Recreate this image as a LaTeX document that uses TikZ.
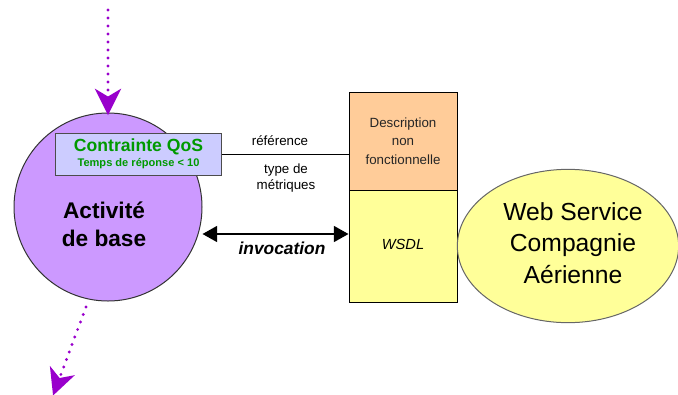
\documentclass[tikz,border=0pt]{standalone}
\usepackage{fontspec}
\setmainfont{Liberation Sans}
\usetikzlibrary{arrows.meta,shapes.geometric}
\definecolor{actfill}{HTML}{CC99FF}
\definecolor{flowpurple}{HTML}{9900CC}
\definecolor{qosfill}{HTML}{CCCCFF}
\definecolor{qosgreen}{HTML}{009900}
\definecolor{descfill}{HTML}{FFCC99}
\definecolor{wsdlfill}{HTML}{FFFF99}
\definecolor{wsfill}{HTML}{FFFF99}
\tikzset{
  flow/.style={flowpurple, line width=2.4pt, line cap=round, dash pattern=on 0pt off 6pt,
    -{Stealth[length=20pt,width=20pt,inset=6pt,line width=0pt,fill=flowpurple,sep=-2pt]}},
  boxed/.style={draw=black, line width=0.75pt, minimum width=81pt, inner sep=0pt},
}
\begin{document}
\begin{tikzpicture}[x=0.75pt,y=-0.75pt]
\useasboundingbox (0,0) rectangle (678,394);
% Activity circle
\node[circle, draw=black!80, line width=0.75pt, fill=actfill, minimum size=141pt, inner sep=0pt] (act) at (108,207) {};
\node[font=\bfseries\fontsize{17}{21}\selectfont, align=center] (acttxt) at (104,224) {Activité\\de base};
% flows
\coordinate (topstart) at (108,10);
\coordinate (botend) at (54,393);
\coordinate (botstart) at (86,307);
\draw[flow] (topstart) -- (act.north);
\draw[flow] (botstart) -- (botend);
% QoS box
\node[draw=black!70, line width=0.75pt, fill=qosfill, minimum width=125pt, minimum height=31.5pt, inner sep=0pt, align=center, text=qosgreen] (qos) at (138.5,154)
  {{\bfseries\fontsize{13.2}{15}\selectfont Contrainte QoS}\\[-1pt]{\bfseries\fontsize{8.3}{10}\selectfont Temps de réponse < 10}};
% Description and WSDL
\node[boxed, fill=descfill, minimum height=73.5pt, align=center, font=\fontsize{10}{14}\selectfont, text=black!85] (desc) at (403,141) {Description\\non\\fonctionnelle};
\node[boxed, fill=wsdlfill, minimum height=84pt, font=\itshape\fontsize{11}{13}\selectfont] (wsdl) at (403,246) {};
\node[font=\itshape\fontsize{11}{13}\selectfont] (wsdltxt) at (403,244) {WSDL};
% reference line
\draw[line width=0.75pt] (qos.east) -- (qos.east -| desc.west);
\node[font=\fontsize{10}{12}\selectfont] (ref) at (280,141) {référence};
\node[font=\fontsize{10}{12.5}\selectfont, align=center] (typ) at (286,178) {type de\\métriques};
% invocation
\draw[line width=1.2pt, {Triangle[length=11pt,width=12pt]}-{Triangle[length=11pt,width=12pt]}] (act.east |- 0,234) -- (wsdl.west |- 0,234);
\node[font=\bfseries\itshape\fontsize{13}{15}\selectfont] (inv) at (282,248) {invocation};
% Web service ellipse
\node[ellipse, draw=black!60, line width=0.75pt, fill=wsfill, minimum width=166pt, minimum height=115pt, inner sep=0pt] (ws) at (568,246) {};
\node[font=\fontsize{18.5}{23.5}\selectfont, align=center] (wstxt) at (573,243) {Web Service\\Compagnie\\Aérienne};
\end{tikzpicture}
\end{document}
